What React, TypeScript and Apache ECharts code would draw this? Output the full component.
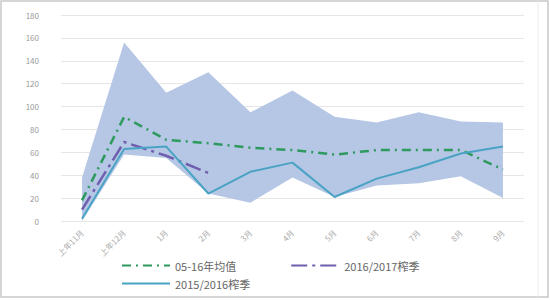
import React, { useEffect, useRef } from "react";
import * as echarts from "echarts";

const categories = ["上年11月", "上年12月", "1月", "2月", "3月", "4月", "5月", "6月", "7月", "8月", "9月"];
const bandMax = [38, 156, 112, 130, 95, 114, 91, 86, 95, 87, 86];
const bandMin = [0, 58, 55, 24, 16, 38, 21, 31, 33, 39, 20];
const avg0516 = [18, 91, 71, 68, 64, 62, 58, 62, 62, 62, 45];
const season1617 = [10, 69, 57, 42];
const season1516 = [2, 63, 65, 24, 43, 51, 21, 37, 47, 59, 65];
const yTicks = [0, 20, 40, 60, 80, 100, 120, 140, 160, 180];

export default function App() {
  const ref = useRef<HTMLDivElement>(null);
  useEffect(() => {
    const chart = echarts.init(ref.current!, null, { renderer: "svg" });
    const diff = bandMax.map((v, i) => v - bandMin[i]);
    const legendCommon = {
      itemWidth: 48,
      itemHeight: 8,
      itemStyle: { opacity: 0 },
      textStyle: { fontSize: 11, color: "#666" },
    };
    chart.setOption({
      animation: false,
      backgroundColor: "#ffffff",
      textStyle: { fontFamily: "Noto Sans CJK SC" },
      grid: { left: 61, right: 26, top: 15, bottom: 79, containLabel: false },
      xAxis: {
        type: "category",
        data: categories,
        boundaryGap: true,
        axisLine: { show: false },
        axisTick: { show: false },
        axisLabel: { rotate: 45, fontSize: 8, color: "#aaa", margin: 10 },
      },
      yAxis: {
        type: "value",
        min: yTicks[0],
        max: yTicks[yTicks.length - 1],
        interval: 20,
        axisLine: { show: false },
        axisTick: { show: false },
        axisLabel: { fontSize: 8, color: "#999", margin: 22 },
        splitLine: { lineStyle: { color: "#e6e6e6", width: 1 } },
      },
      legend: [
        {
          ...legendCommon,
          data: ["05-16年均值", "2016/2017榨季"],
          left: 116,
          top: 255,
          itemGap: 54,
        },
        {
          ...legendCommon,
          data: ["2015/2016榨季"],
          left: 116,
          top: 273,
        },
      ],
      series: [
        {
          name: "min",
          type: "line",
          stack: "band",
          data: bandMin,
          symbol: "none",
          lineStyle: { opacity: 0 },
          silent: true,
        },
        {
          name: "range",
          type: "line",
          stack: "band",
          data: diff,
          symbol: "none",
          lineStyle: { opacity: 0 },
          areaStyle: { color: "#b5c7e5", opacity: 1 },
          silent: true,
        },
        {
          name: "05-16年均值",
          type: "line",
          data: avg0516,
          symbol: "none",
          color: "#2e9a5e",
          lineStyle: { color: "#2e9a5e", width: 2.5, type: [9, 5, 2, 5] },
        },
        {
          name: "2016/2017榨季",
          type: "line",
          data: season1617,
          symbol: "none",
          color: "#6f5fae",
          lineStyle: { color: "#6f5fae", width: 2.5, type: [16, 5, 3, 5] },
        },
        {
          name: "2015/2016榨季",
          type: "line",
          data: season1516,
          symbol: "none",
          color: "#4aa3c4",
          lineStyle: { color: "#4aa3c4", width: 2 },
        },
      ],
      graphic: [
        {
          type: "rect",
          shape: { x: 1, y: 1, width: 547, height: 296 },
          style: { fill: "none", stroke: "#c8c8c8", lineWidth: 1.5 },
          silent: true,
        },
        {
          type: "line",
          shape: { x1: 538, y1: 1, x2: 538, y2: 297 },
          style: { stroke: "#ececec", lineWidth: 1 },
          silent: true,
        },
      ],
    });
    return () => chart.dispose();
  }, []);
  return <div ref={ref} style={{ width: 550, height: 300, position: "absolute", left: 0, top: 0 }} />;
}
